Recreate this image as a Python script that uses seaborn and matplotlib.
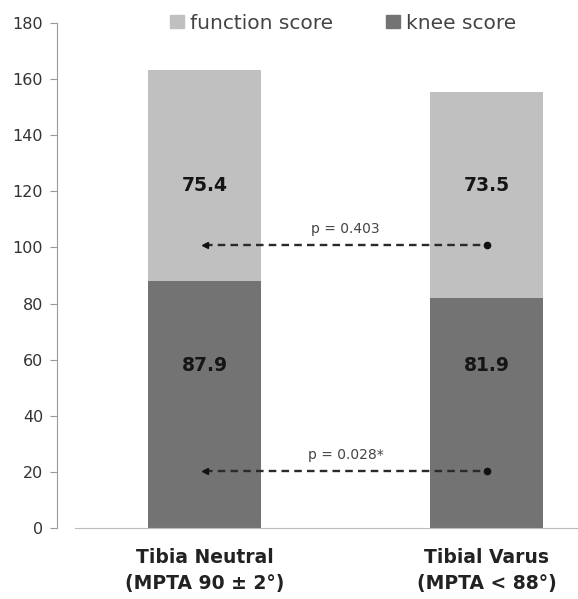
import matplotlib.pyplot as plt
import numpy as np
import pandas as pd
import seaborn as sns
from matplotlib.patches import Patch

groups = ["Tibia Neutral\n(MPTA 90 ± 2°)", "Tibial Varus\n(MPTA < 88°)"]
knee_score = [87.9, 81.9]
function_score = [75.4, 73.5]
p_labels = ["p = 0.403", "p = 0.028*"]
p_levels = [101, 20.5]

light = "#c0c0c0"
dark = "#737373"

df = pd.DataFrame({"group": groups, "knee": knee_score, "function": function_score})
df["total"] = df["knee"] + df["function"]

sns.set_style("white")
plt.rcParams["font.family"] = ["DejaVu Sans"]

fig = plt.figure(figsize=(5.78, 5.99), dpi=100)
ax = fig.add_axes([0.1298, 0.1185, 0.8702, 0.8431])

sns.barplot(data=df, x="group", y="total", color=light, width=0.4, saturation=1, linewidth=0, ax=ax)
sns.barplot(data=df, x="group", y="knee", color=dark, width=0.4, saturation=1, linewidth=0, ax=ax)

# value labels
for i, (k, f) in enumerate(zip(knee_score, function_score)):
    ax.text(i, 58, f"{k:.1f}", ha="center", va="center", fontsize=13.5, fontweight="bold", color="#151515")
    ax.text(i, 122, f"{f:.1f}", ha="center", va="center", fontsize=13.5, fontweight="bold", color="#151515")

# p-value comparisons
for lab, lvl in zip(p_labels, p_levels):
    ax.plot([0, 1], [lvl, lvl], ls=(0, (3.2, 2.2)), color="#2a2a2a", lw=1.7)
    ax.plot(0, lvl, marker="<", ms=5, color="#111")
    ax.plot(1, lvl, marker="o", ms=4.5, color="#111")
    ax.text(0.5, lvl + 5.5, lab, ha="center", va="center", fontsize=10, color="#444")

ax.set_ylim(0, 180)
ax.set_xlim(-0.459, 1.324)
ax.set_yticks(np.arange(0, 181, 20))
ax.set_xlabel("")
ax.set_ylabel("")
ax.tick_params(axis="y", left=True, length=5, color="#999", labelsize=11.5, labelcolor="#333", pad=5)
ax.tick_params(axis="x", bottom=False, labelsize=13.5, pad=11)
for t in ax.get_xticklabels():
    t.set_fontweight("bold")
    t.set_color("#222")
    t.set_linespacing(1.45)

for s in ["top", "right"]:
    ax.spines[s].set_visible(False)
ax.spines["left"].set_position(("outward", 13))
ax.spines["left"].set_color("#999")
ax.spines["bottom"].set_color("#bbb")

handles = [Patch(color=light, label="function score"), Patch(color=dark, label="knee score")]
fig.legend(handles=handles, loc="center left", bbox_to_anchor=(0.277, 0.961), ncol=2,
           frameon=False, fontsize=14.5, handlelength=0.7, handleheight=0.6, borderpad=0,
           handletextpad=0.3, columnspacing=2.6, labelcolor="#444")

fig.savefig("out.png", dpi=100)
